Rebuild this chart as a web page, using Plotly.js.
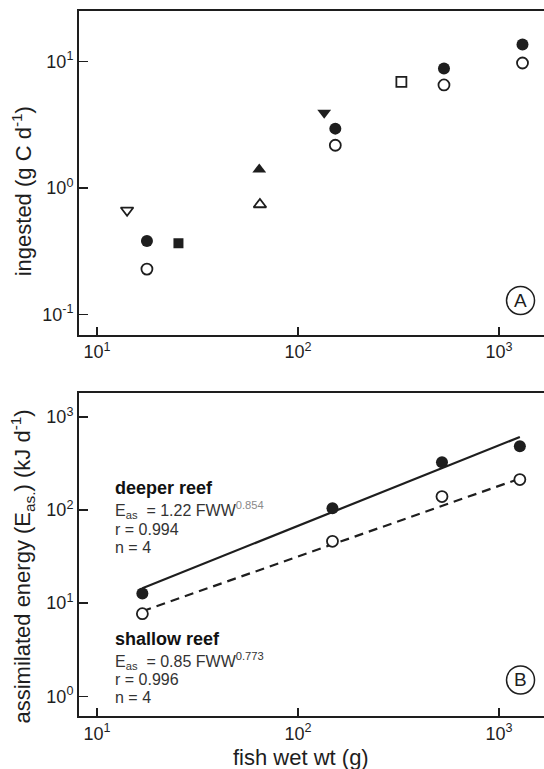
<!DOCTYPE html>
<html>
<head>
<meta charset="utf-8">
<script src="https://cdn.plot.ly/plotly-3.0.1.min.js"></script>
<style>html,body{margin:0;padding:0;background:#fff;}#chart{width:544px;height:769px;}</style>
</head>
<body>
<div id="chart"></div>
<script>
// ---- Panel A data (ingested, g C d^-1 vs fish wet wt, g) ----
var aFilledCircleX = [17.7, 153.2, 532, 1308];
var aFilledCircleY = [0.380, 2.95, 8.82, 13.66];
var aOpenCircleX   = [17.7, 153.2, 532, 1308];
var aOpenCircleY   = [0.228, 2.18, 6.54, 9.76];
var aOpenTriDownX  = [14.1];
var aOpenTriDownY  = [0.666];
var aFilledSquareX = [25.4];
var aFilledSquareY = [0.365];
var aFilledTriUpX  = [64.1];
var aFilledTriUpY  = [1.40];
var aOpenTriUpX    = [64.6];
var aOpenTriUpY    = [0.740];
var aFilledTriDownX = [134.9];
var aFilledTriDownY = [3.94];
var aOpenSquareX   = [326.6];
var aOpenSquareY   = [6.91];

// ---- Panel B data (assimilated energy, kJ d^-1) ----
var bFishWt      = [16.8, 148.3, 520, 1269];
var bDeeper      = [12.7, 104.5, 326.6, 485];
var bShallow     = [7.71, 46.2, 139.7, 212.8];
var bFitX        = [16.8, 1269];
var bDeeperFitY  = [14.5, 610];
var bShallowFitY = [8.2, 218];

// ---- tick labels ----
var xTickVals = [10, 100, 1000];
var xTickText = ['10<sup>1</sup>', '10<sup>2</sup>', '10<sup>3</sup>'];
var aYTickVals = [0.1, 1, 10];
var aYTickText = ['10<sup>-1</sup>', '10<sup>0</sup>', '10<sup>1</sup>'];
var bYTickVals = [1, 10, 100, 1000];
var bYTickText = ['10<sup>0</sup>', '10<sup>1</sup>', '10<sup>2</sup>', '10<sup>3</sup>'];

var INK = '#1e1e1e';
function mk(x, y, sym, filled, size, xa, ya) {
  return {
    x: x, y: y, xaxis: xa, yaxis: ya, type: 'scatter', mode: 'markers',
    marker: {
      symbol: sym, size: size,
      color: filled ? INK : '#ffffff',
      line: {color: INK, width: filled ? 0 : 1.8}
    },
    hoverinfo: 'x+y'
  };
}

var traces = [
  mk(aFilledCircleX, aFilledCircleY, 'circle', true, 12, 'x', 'y'),
  mk(aOpenCircleX, aOpenCircleY, 'circle', false, 11, 'x', 'y'),
  mk(aOpenTriDownX, aOpenTriDownY, 'triangle-down', false, 11, 'x', 'y'),
  mk(aFilledSquareX, aFilledSquareY, 'square', true, 10, 'x', 'y'),
  mk(aFilledTriUpX, aFilledTriUpY, 'triangle-up', true, 12, 'x', 'y'),
  mk(aOpenTriUpX, aOpenTriUpY, 'triangle-up', false, 11, 'x', 'y'),
  mk(aFilledTriDownX, aFilledTriDownY, 'triangle-down', true, 12, 'x', 'y'),
  mk(aOpenSquareX, aOpenSquareY, 'square', false, 10, 'x', 'y'),
  {x: bFitX, y: bDeeperFitY, xaxis: 'x2', yaxis: 'y2', type: 'scatter', mode: 'lines',
   line: {color: INK, width: 2.2}, hoverinfo: 'skip'},
  {x: bFitX, y: bShallowFitY, xaxis: 'x2', yaxis: 'y2', type: 'scatter', mode: 'lines',
   line: {color: INK, width: 2.2, dash: '9px,6px'}, hoverinfo: 'skip'},
  mk(bFishWt, bDeeper, 'circle', true, 12, 'x2', 'y2'),
  mk(bFishWt, bShallow, 'circle', false, 11, 'x2', 'y2')
];

var tickFont = {family: 'Liberation Sans, Arial, sans-serif', size: 18, color: INK};
function xax(anchor) {
  return {
    type: 'log', range: [0.910, 3.2236], domain: [0, 1], anchor: anchor,
    tickvals: xTickVals, ticktext: xTickText, tickfont: tickFont,
    ticks: 'inside', ticklen: 8, tickwidth: 1.5, tickcolor: INK,
    showline: true, linecolor: INK, linewidth: 2, mirror: true,
    showgrid: false, zeroline: false
  };
}
function yax(range, domain, vals, text, anchor) {
  return {
    type: 'log', range: range, domain: domain, anchor: anchor,
    tickvals: vals, ticktext: text, tickfont: tickFont,
    ticks: 'inside', ticklen: 9, tickwidth: 1.5, tickcolor: INK,
    showline: true, linecolor: INK, linewidth: 2,
    showgrid: false, zeroline: false
  };
}

var titleFont = {family: 'Liberation Sans, Arial, sans-serif', size: 22, color: INK};
var boldFont = {family: 'Liberation Sans, Arial, sans-serif', size: 18, color: '#111'};
var narrowFont = {family: 'Liberation Sans, Arial, sans-serif', size: 16, color: '#333'};
var leftX = 0.0731;

function txt(t, x, y, font, xanchor, angle) {
  return {text: t, x: x, y: y, xref: 'paper', yref: 'paper', showarrow: false,
          xanchor: xanchor || 'left', yanchor: 'middle', font: font, textangle: angle || 0};
}

var annotations = [
  txt('ingested (g C d<sup>-1</sup>)', -0.122, 0.7446, titleFont, 'center', -90),
  txt('assimilated energy (E<sub>as.</sub>) (kJ d<sup>-1</sup>)', -0.122, 0.2124, titleFont, 'center', -90),
  txt('fish wet wt (g)', 0.4774, -0.0586, titleFont, 'center', 0),
  txt('<b>deeper reef</b>', leftX, 0.3235, boldFont),
  txt('E<sub>as</sub>  = 1.22 FWW<sup><span style="color:#8a8a8a">0.854</span></sup>', leftX, 0.2915, narrowFont),
  txt('r = 0.994', leftX, 0.2650, narrowFont),
  txt('n = 4', leftX, 0.2397, narrowFont),
  txt('<b>shallow reef</b>', leftX, 0.1092, boldFont),
  txt('E<sub>as</sub>  = 0.85 FWW<sup>0.773</sup>', leftX, 0.0775, narrowFont),
  txt('r = 0.996', leftX, 0.0520, narrowFont),
  txt('n = 4', leftX, 0.0265, narrowFont),
  txt('A', 0.9495, 0.5894, {family: 'Liberation Sans, Arial, sans-serif', size: 19, color: INK}, 'center'),
  txt('B', 0.9495, 0.0511, {family: 'Liberation Sans, Arial, sans-serif', size: 19, color: INK}, 'center')
];

function ring(px, py) {
  return {type: 'circle', xref: 'paper', yref: 'paper',
          xsizemode: 'pixel', ysizemode: 'pixel', xanchor: px, yanchor: py,
          x0: -14, x1: 14, y0: -14, y1: 14,
          line: {color: INK, width: 1.5}, fillcolor: 'rgba(0,0,0,0)'};
}

var layout = {
  width: 544, height: 769,
  margin: {l: 79, r: 0, t: 11, b: 53, pad: 0},
  paper_bgcolor: '#ffffff', plot_bgcolor: '#ffffff',
  showlegend: false,
  font: {family: 'Liberation Sans, Arial, sans-serif', color: INK},
  xaxis: xax('y'),
  yaxis: yax([-1.16, 1.401], [0.5411, 1], aYTickVals, aYTickText, 'x'),
  xaxis2: xax('y2'),
  yaxis2: yax([-0.212, 3.258], [0, 0.4582], bYTickVals, bYTickText, 'x2'),
  annotations: annotations,
  shapes: [ring(0.9495, 0.5894), ring(0.9495, 0.0511)]
};

Plotly.newPlot('chart', traces, layout, {displayModeBar: false, staticPlot: true});
</script>
</body>
</html>
